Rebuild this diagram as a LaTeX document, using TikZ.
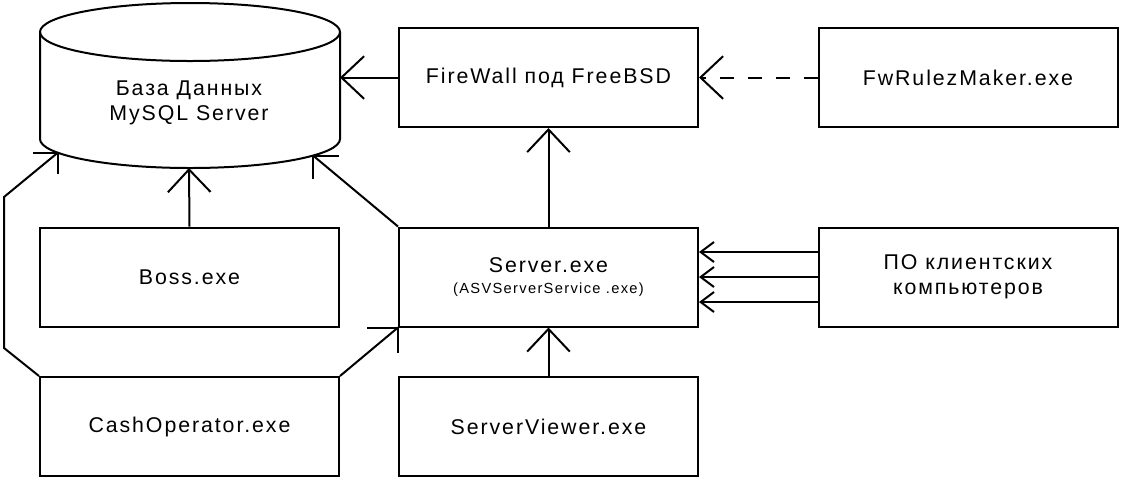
\documentclass[tikz,border=0pt]{standalone}
\usepackage{fontspec}
\setmainfont{Liberation Sans}[LetterSpace=9]
\usetikzlibrary{arrows.meta}
\begin{document}
\begin{tikzpicture}[x=0.75pt,y=-0.75pt,
  line/.style={line width=1.5pt},
  box/.style={draw,line width=1.5pt,rectangle,minimum width=224.25pt,minimum height=74.25pt,inner sep=0pt,align=center,font=\fontsize{16}{18.5}\selectfont},
  arr/.style={line width=1.5pt,-{Straight Barb[length=17pt,width=32pt]}},
  sarr/.style={line width=1.5pt,-{Straight Barb[length=10pt,width=15pt]}},
  head/.style={line width=1.5pt}]
\useasboundingbox (0,0) rectangle (1122,480);
% boxes
\node[box] (fw) at (548.5,77.5) {FireWall под FreeBSD};
\node[box] (fwr) at (968,77.5) {FwRulezMaker.exe};
\node[box] (boss) at (189.5,277) {Boss.exe};
\node[box] (srv) at (548.5,277) {Server.exe\\[-3pt]{\fontsize{11}{12}\selectfont (ASVServerService .exe)}};
\node[box] (po) at (968,277) {ПО клиентских\\компьютеров};
\node[box] (cash) at (189.5,426.5) {CashOperator.exe};
\node[box] (view) at (548.5,426.5) {ServerViewer.exe};
% database cylinder
\draw[line] (190,32) ellipse [x radius=150, y radius=29];
\draw[line] (40,32) -- (40,139) arc[start angle=180,end angle=0,x radius=150,y radius=29] -- (340,32);
\node[align=center,font=\fontsize{16}{18.75}\selectfont] (db) at (189,103) {База Данных\\MySQL Server};
\coordinate (dbR) at (340,77.5);
\coordinate (dbB) at (189,168);
\coordinate (dbL) at (58,152.5);
\coordinate (dbS) at (313,155.5);
\coordinate (c1) at (4,348);
\coordinate (c2) at (4,197);
% connectors
\draw[arr] (fw.west) -- (dbR);
\draw[arr,dash pattern=on 10.5pt off 10.5pt] (fwr.west) -- (fw.east);
\draw[arr] (srv.north) -- (fw.south);
\draw[arr] (boss.north) -- (dbB);
\draw[arr] (view.north) -- (srv.south);
\draw[sarr] ([yshift=18.75pt]po.west) -- ([yshift=18.75pt]srv.east);
\draw[sarr] (po.west) -- (srv.east);
\draw[sarr] ([yshift=-18.75pt]po.west) -- ([yshift=-18.75pt]srv.east);
\draw[line] (cash.north west) -- (c1) -- (c2) -- (dbL);
\draw[head] (dbL) ++(-25,0) -- (dbL) -- ++(0,21);
\draw[line] (cash.north east) -- (srv.south west);
\draw[head] (srv.south west) ++(-31,0) -- (srv.south west) -- ++(0,25);
\draw[line] (srv.north west) -- (dbS);
\draw[head] (dbS) ++(26,0) -- (dbS) -- ++(0,23);
\end{tikzpicture}
\end{document}
